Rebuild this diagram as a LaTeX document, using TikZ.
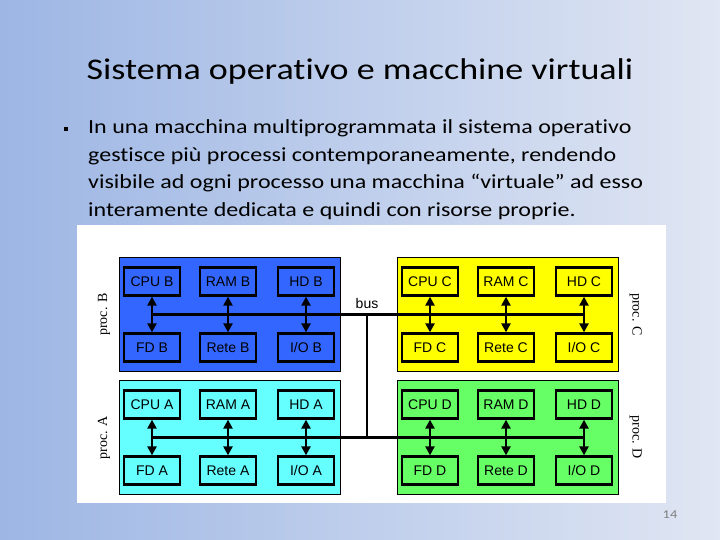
\documentclass[tikz,border=0pt]{standalone}
\usepackage{fontspec}
\setmainfont{Carlito}[FakeStretch=1.2, Ligatures=NoCommon]
\newfontfamily\arialfont{Liberation Sans}
\newfontfamily\timesfont{Liberation Serif}
\usetikzlibrary{arrows.meta,calc,positioning}

\definecolor{slideleft}{RGB}{157,182,228}
\definecolor{slideright}{RGB}{224,230,243}
\definecolor{procblue}{RGB}{51,102,255}
\definecolor{proccyan}{RGB}{102,255,255}
\definecolor{procyellow}{RGB}{255,255,0}
\definecolor{procgreen}{RGB}{102,255,102}
\definecolor{pagegray}{RGB}{128,128,128}

\tikzset{
  procbox/.style={draw=black, line width=1.2pt, minimum width=221pt, minimum height=114pt, inner sep=0pt},
  unit/.style={draw=black, line width=2.3pt, minimum width=56pt, minimum height=28pt, inner sep=0pt,
    font=\arialfont\fontsize{14}{14}\selectfont},
  link/.style={line width=2.5pt, {Triangle[length=9pt,width=9pt]}-{Triangle[length=9pt,width=9pt]}},
  busline/.style={line width=2.5pt},
  proclbl/.style={font=\timesfont\fontsize{14}{14}\selectfont, inner sep=0pt},
}

\begin{document}
\begin{tikzpicture}[x=1pt,y=-1pt]
  \useasboundingbox (0,0) rectangle (720,540);
  \shade[left color=slideleft, right color=slideright] (0,0) rectangle (720,540);

  % titolo e testo
  \node[anchor=base, inner sep=0pt, font=\fontsize{30}{30}\selectfont] (titolo) at (360,79.5)
    {Sistema operativo e macchine virtuali};
  \fill (63.5,127) rectangle (68,131.5);
  \foreach \riga [count=\i] in {{In una macchina multiprogrammata il sistema operativo},
      {gestisce più processi contemporaneamente, rendendo},
      {visibile ad ogni processo una macchina “virtuale” ad esso},
      {interamente dedicata e quindi con risorse proprie.}}
    \node[anchor=base west, inner sep=0pt, font=\fontsize{20}{20}\selectfont] (riga\i) at (88,{106.5+27.5*\i}) {\riga};

  \fill[white] (77,225) rectangle (666,503);

  % i quattro processi
  \foreach \p/\px/\py/\col in {B/119/257/procblue, C/397/257/procyellow, A/119/380/proccyan, D/397/380/procgreen} {
    \node[procbox, fill=\col, anchor=north west] (box\p) at (\px,\py) {};
    \node[unit, fill=\col] (cpu\p)  at (\px+33,\py+24.5) {CPU \p};
    \node[unit, fill=\col] (ram\p)  at (\px+109,\py+24.5) {RAM \p};
    \node[unit, fill=\col] (hd\p)   at (\px+187,\py+24.5) {HD \p};
    \node[unit, fill=\col] (fd\p)   at (\px+33,\py+90.5) {FD \p};
    \node[unit, fill=\col] (rete\p) at (\px+109,\py+90.5) {Rete \p};
    \node[unit, fill=\col] (io\p)   at (\px+187,\py+90.5) {I/O \p};
    \draw[link] (cpu\p) -- (fd\p);
    \draw[link] (ram\p) -- (rete\p);
    \draw[link] (hd\p) -- (io\p);
    \coordinate (jL\p) at ($(cpu\p)!0.5!(fd\p)$);
    \coordinate (jR\p) at ($(hd\p)!0.5!(io\p)$);
  }

  % bus
  \coordinate (busX) at (367,0);
  \draw[busline] (jLB) -- (jRC);
  \draw[busline] (jLA) -- (jRD);
  \draw[busline] (jLB -| busX) -- (jLA -| busX);
  \node[above=6pt, inner sep=0pt, font=\arialfont\fontsize{14}{14}\selectfont] (buslbl) at (jLB -| busX) {bus};

  \node[proclbl, rotate=90] (lblB) at ($(boxB.west |- jLB)+(-15,0)$) {proc. B};
  \node[proclbl, rotate=90] (lblA) at ($(boxA.west |- jLA)+(-15,0)$) {proc. A};
  \node[proclbl, rotate=-90] (lblC) at ($(boxC.east |- jRC)+(16.5,0)$) {proc. C};
  \node[proclbl, rotate=-90] (lblD) at ($(boxD.east |- jRD)+(16.5,0)$) {proc. D};

  \node[font=\fontsize{12}{12}\selectfont, text=pagegray] (pagina) at (670,515) {14};
\end{tikzpicture}
\end{document}
